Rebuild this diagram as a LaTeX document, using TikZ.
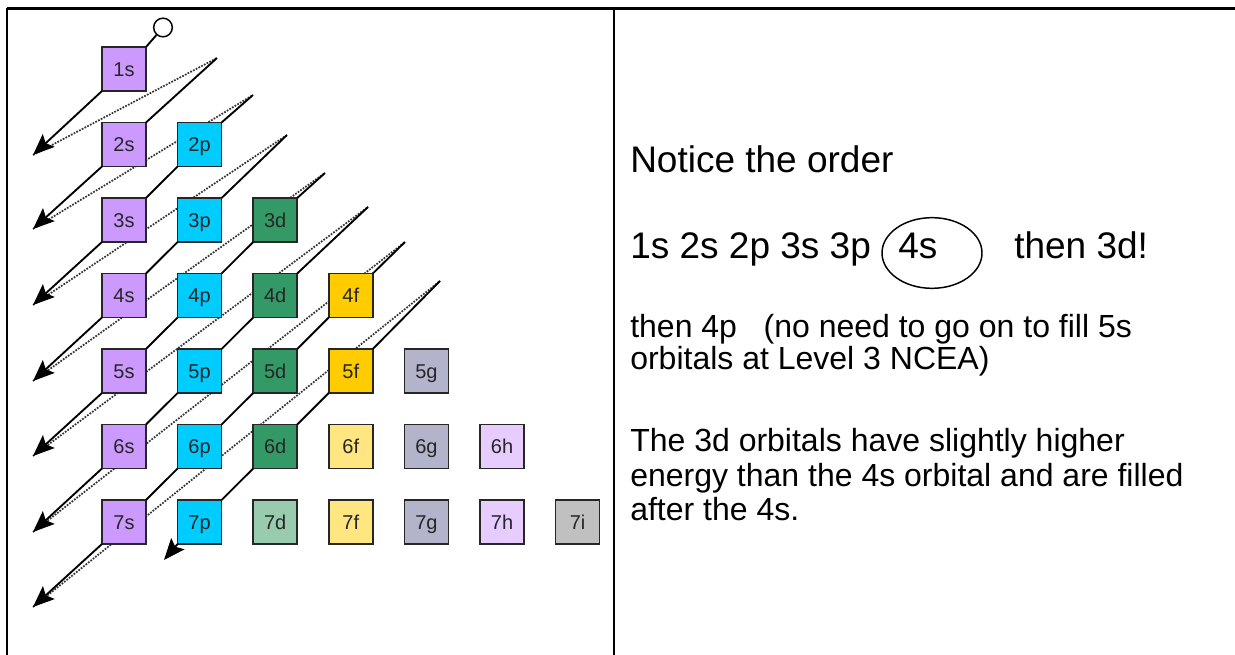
\documentclass[tikz,border=0pt]{standalone}
\usepackage{fontspec}
\setmainfont{Liberation Sans}
\usetikzlibrary{arrows.meta,shapes.geometric}

% orbital fill colours
\definecolor{sorb}{HTML}{CC99FF}
\definecolor{porb}{HTML}{00CCFF}
\definecolor{dorb}{HTML}{339966}
\definecolor{dpale}{HTML}{99CCAF}
\definecolor{forb}{HTML}{FFCC00}
\definecolor{fpale}{HTML}{FFE680}
\definecolor{gorb}{HTML}{B3B3CC}
\definecolor{horb}{HTML}{E6CCFF}
\definecolor{iorb}{HTML}{C0C0C0}

\tikzset{
  orb/.style={draw=black!85, line width=1.1pt, minimum size=33pt, inner sep=0pt,
              outer sep=0pt, text=black!85, font=\fontsize{15pt}{16pt}\selectfont,
              text height=10.7pt, text depth=0pt},
  flow/.style={line width=1.4pt, black},
  flowend/.style={flow, -{Stealth[length=16pt, width=13pt, inset=3pt]}},
  back/.style={line width=1.3pt, black!80, densely dotted},
  frame/.style={line width=2pt, black},
  big/.style={font=\fontsize{27.75pt}{33pt}\selectfont, anchor=base west, inner sep=0pt},
  small/.style={font=\fontsize{24pt}{29pt}\selectfont, anchor=base west, inner sep=0pt}
}

\begin{document}
\begin{tikzpicture}[x=0.75pt, y=-0.75pt]
\useasboundingbox (0,0) rectangle (1235,655);

% table rules
\draw[frame] (7,8.5) -- (1235,8.5);
\draw[frame] (7,8.5) -- (7,655);
\draw[frame] (614,8.5) -- (614,655);

% upper ends of the diagonals and the arrow tips
\coordinate (T2) at (217,58);
\coordinate (T3) at (253,95);
\coordinate (T4) at (287,135);
\coordinate (T5) at (325,173);
\coordinate (T6) at (368,207);
\coordinate (T7) at (405,242);
\coordinate (T8) at (440,281);
\coordinate (A1) at (33,155);
\coordinate (A2) at (33,229);
\coordinate (A3) at (33,305);
\coordinate (A4) at (33,381);
\coordinate (A5) at (33,456);
\coordinate (A6) at (33,532);
\coordinate (A7) at (33,607);
\coordinate (A8) at (164,560);

% return strokes back up to the next diagonal
\foreach \a/\b in {A1/T2, A2/T3, A3/T4, A4/T5, A5/T6, A6/T7, A7/T8}
  \draw[back] (\a) -- (\b);

% starting circle
\node[draw, circle, line width=1.1pt, fill=white, minimum size=14pt, inner sep=0pt] (start) at (163,27.5) {};

% orbital boxes
\foreach \n/\l/\lab/\col in {
  1/0/1s/sorb,
  2/0/2s/sorb, 2/1/2p/porb,
  3/0/3s/sorb, 3/1/3p/porb, 3/2/3d/dorb,
  4/0/4s/sorb, 4/1/4p/porb, 4/2/4d/dorb, 4/3/4f/forb,
  5/0/5s/sorb, 5/1/5p/porb, 5/2/5d/dorb, 5/3/5f/forb, 5/4/5g/gorb,
  6/0/6s/sorb, 6/1/6p/porb, 6/2/6d/dorb, 6/3/6f/fpale, 6/4/6g/gorb, 6/5/6h/horb,
  7/0/7s/sorb, 7/1/7p/porb, 7/2/7d/dpale, 7/3/7f/fpale, 7/4/7g/gorb, 7/5/7h/horb, 7/6/7i/iorb}
  \node[orb, fill=\col] (b\lab) at ({124+75.6*\l},{69+75.5*(\n-1)}) {\lab};

% filling diagonals
\draw[flow] (start) -- (b1s.north east);
\draw[flowend] (b1s.south west) -- (A1);
\draw[flowend] (T2) -- (b2s.north east) (b2s.south west) -- (A2);
\draw[flow] (T3) -- (b2p.north east) (b2p.south west) -- (b3s.north east);
\draw[flowend] (b3s.south west) -- (A3);
\draw[flow] (T4) -- (b3p.north east) (b3p.south west) -- (b4s.north east);
\draw[flowend] (b4s.south west) -- (A4);
\draw[flow] (T5) -- (b3d.north east) (b3d.south west) -- (b4p.north east)
            (b4p.south west) -- (b5s.north east);
\draw[flowend] (b5s.south west) -- (A5);
\draw[flow] (T6) -- (b4d.north east) (b4d.south west) -- (b5p.north east)
            (b5p.south west) -- (b6s.north east);
\draw[flowend] (b6s.south west) -- (A6);
\draw[flow] (T7) -- (b4f.north east) (b4f.south west) -- (b5d.north east)
            (b5d.south west) -- (b6p.north east) (b6p.south west) -- (b7s.north east);
\draw[flowend] (b7s.south west) -- (A7);
\draw[flow] (T8) -- (b5f.north east) (b5f.south west) -- (b6d.north east)
            (b6d.south west) -- (b7p.north east);
\draw[flowend] (b7p.south west) -- (A8);

% notes on the right
\node[big] (head) at (630,173) {Notice the order};
\node[big] (seq) at (630,259) {1s 2s 2p 3s 3p};
\node[big] (four) at (898,259) {4s};
\node[big] (next) at (1014,259) {then 3d!};
\node[draw, ellipse, line width=1.1pt, minimum width=75pt, minimum height=53pt, inner sep=0pt] (ring) at (932,253) {};

\node[small] (l1) at (630,338) {then 4p\ \ \ (no need to go on to fill 5s};
\node[small] (l2) at (630,370) {orbitals at Level 3 NCEA)};
\node[small] (l3) at (630,452) {The 3d orbitals have slightly higher};
\node[small] (l4) at (630,487) {energy than the 4s orbital and are filled};
\node[small] (l5) at (630,521) {after the 4s.};
\end{tikzpicture}
\end{document}
